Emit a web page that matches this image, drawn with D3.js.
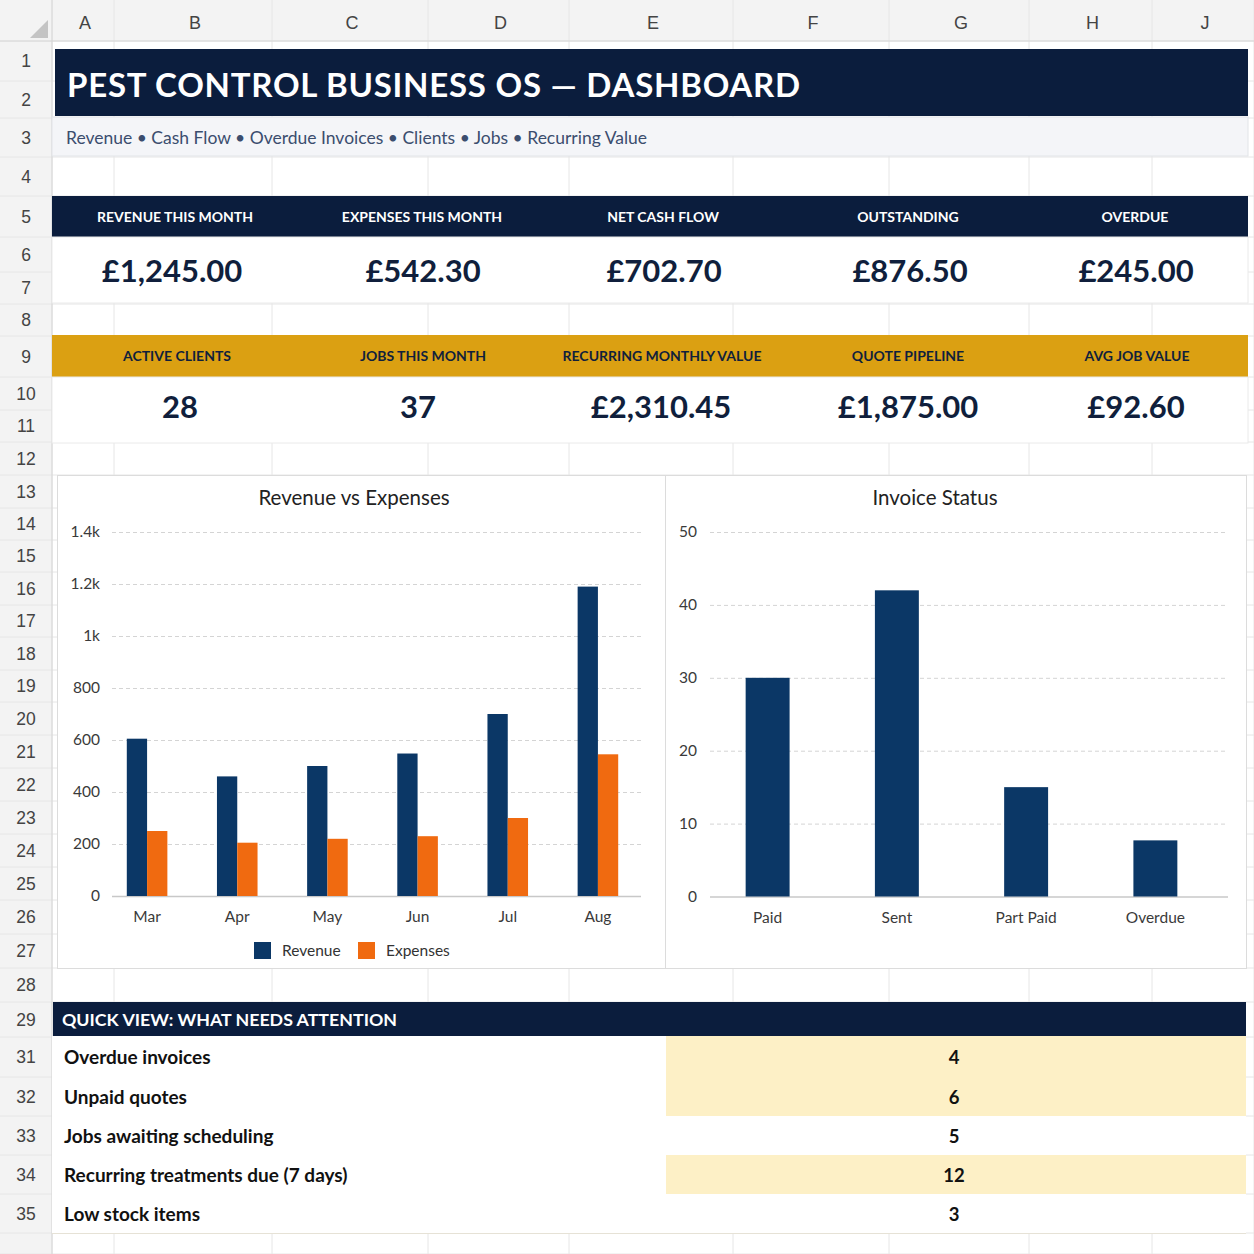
<!DOCTYPE html>
<html>
<head>
<meta charset="utf-8">
<script src="https://cdn.jsdelivr.net/npm/d3@7"></script>
<style>
  html, body { margin: 0; padding: 0; background: #fff; }
  svg { display: block; font-family: Lato, "Noto Sans", sans-serif; }
</style>
</head>
<body>
<svg id="sheet" width="1254" height="1254"></svg>
<script>
// ---- data ----
var titleText = "PEST CONTROL BUSINESS OS \u2014 DASHBOARD";
var subtitleText = "Revenue \u2022 Cash Flow \u2022 Overdue Invoices \u2022 Clients \u2022 Jobs \u2022 Recurring Value";

var kpiLabelsTop = ["REVENUE THIS MONTH", "EXPENSES THIS MONTH", "NET CASH FLOW", "OUTSTANDING", "OVERDUE"];
var kpiValuesTop = ["\u00a31,245.00", "\u00a3542.30", "\u00a3702.70", "\u00a3876.50", "\u00a3245.00"];
var kpiLabelsBottom = ["ACTIVE CLIENTS", "JOBS THIS MONTH", "RECURRING MONTHLY VALUE", "QUOTE PIPELINE", "AVG JOB VALUE"];
var kpiValuesBottom = ["28", "37", "\u00a32,310.45", "\u00a31,875.00", "\u00a392.60"];

var months = ["Mar", "Apr", "May", "Jun", "Jul", "Aug"];
var revenue = [605, 460, 500, 548, 700, 1190];
var expenses = [250, 205, 220, 230, 300, 545];
var revTicks = [0, 200, 400, 600, 800, 1000, 1200, 1400];

var statuses = ["Paid", "Sent", "Part Paid", "Overdue"];
var invoiceCounts = [30, 42, 15, 7.7];
var statusTicks = [0, 10, 20, 30, 40, 50];

var attentionItems = ["Overdue invoices", "Unpaid quotes", "Jobs awaiting scheduling", "Recurring treatments due (7 days)", "Low stock items"];
var attentionCounts = [4, 6, 5, 12, 3];

var colLetters = ["A", "B", "C", "D", "E", "F", "G", "H", "J"];
var rowNumbers = [1,2,3,4,5,6,7,8,9,10,11,12,13,14,15,16,17,18,19,20,21,22,23,24,25,26,27,28,29,31,32,33,34,35,""];

// ---- layout ----
var NAVY = "#0b1d3d", GOLD = "#dba012", BAR = "#0b3766", ORANGE = "#f06a10", INK = "#101f3c";
var colEdges = [52, 114, 272, 428, 569, 733, 889, 1029, 1152, 1254];
var rowEdges = [41, 81, 118, 157, 196, 237, 272, 304, 336, 377, 410, 442, 475, 508, 540, 572, 605, 637, 670,
                702, 735, 768, 801, 834, 867, 900, 934, 968, 1002, 1037, 1077, 1116, 1155, 1194, 1233, 1254];
var topLabelX = [175, 422, 663, 908, 1135];
var topValueX = [172, 423, 664, 910, 1136];
var botLabelX = [177, 423, 662, 908, 1137];
var botValueX = [180, 418, 661, 908, 1136];
var highlightRows = [0, 1, 3];

var svg = d3.select("#sheet");
svg.append("rect").attr("width", 1254).attr("height", 1254).attr("fill", "#fff");

// spreadsheet chrome
svg.append("rect").attr("x", 0).attr("y", 0).attr("width", 1254).attr("height", 41).attr("fill", "#f3f3f3");
svg.append("rect").attr("x", 0).attr("y", 0).attr("width", 52).attr("height", 1254).attr("fill", "#f3f3f3");
svg.append("path").attr("d", "M48,20 L48,38 L30,38 Z").attr("fill", "#c4c4c4");

var grid = svg.append("g").attr("stroke", "#e6e6e6").attr("stroke-width", 1);
colEdges.forEach(function (x) {
  grid.append("line").attr("x1", x).attr("x2", x).attr("y1", 0).attr("y2", 1254);
});
rowEdges.forEach(function (y) {
  grid.append("line").attr("x1", 0).attr("x2", 1254).attr("y1", y).attr("y2", y);
});
svg.append("line").attr("x1", 0).attr("x2", 1254).attr("y1", 41).attr("y2", 41).attr("stroke", "#d6d6d6");
svg.append("line").attr("x1", 52).attr("x2", 52).attr("y1", 0).attr("y2", 1254).attr("stroke", "#d6d6d6");

svg.selectAll("text.col").data(colLetters).enter().append("text")
  .attr("class", "col")
  .attr("x", function (d, i) { return (colEdges[i] + colEdges[i + 1]) / 2 + 2; })
  .attr("y", 29)
  .attr("text-anchor", "middle")
  .attr("font-family", "Liberation Sans, Arial, sans-serif")
  .attr("font-size", 18).attr("fill", "#444")
  .text(function (d) { return d; });

svg.selectAll("text.row").data(rowNumbers).enter().append("text")
  .attr("class", "row")
  .attr("x", 26)
  .attr("y", function (d, i) { return (rowEdges[i] + rowEdges[i + 1]) / 2 + 6; })
  .attr("text-anchor", "middle")
  .attr("font-family", "Liberation Sans, Arial, sans-serif")
  .attr("font-size", 17.5).attr("fill", "#444")
  .text(function (d) { return d; });

// title + subtitle
svg.append("rect").attr("x", 55).attr("y", 49).attr("width", 1193).attr("height", 67).attr("fill", NAVY);
svg.append("text").attr("x", 67).attr("y", 97)
  .attr("font-size", 33).attr("font-weight", 700).attr("fill", "#fff")
  .attr("letter-spacing", 0.75)
  .text(titleText);
svg.append("rect").attr("x", 52).attr("y", 117).attr("width", 1196).attr("height", 39)
  .attr("fill", "#f4f5f8").attr("stroke", "#e2e4e8");
svg.append("text").attr("x", 66).attr("y", 144)
  .attr("font-size", 17.5).attr("fill", "#3b4d6e")
  .text(subtitleText);

// KPI bands
function kpiBand(y0, h, valueY, bandFill, labelFill, labels, values, labelX, valueX) {
  svg.append("rect").attr("x", 52).attr("y", y0).attr("width", 1196).attr("height", h).attr("fill", bandFill);
  svg.append("rect").attr("x", 52).attr("y", y0 + h).attr("width", 1196).attr("height", 66)
    .attr("fill", "#fff").attr("stroke", "#eaeaea");
  svg.selectAll(null).data(labels).enter().append("text")
    .attr("x", function (d, i) { return labelX[i]; })
    .attr("y", y0 + h / 2 + 5)
    .attr("text-anchor", "middle")
    .attr("font-size", 14).attr("font-weight", 700).attr("fill", labelFill)
    .text(function (d) { return d; });
  svg.selectAll(null).data(values).enter().append("text")
    .attr("x", function (d, i) { return valueX[i]; })
    .attr("y", valueY)
    .attr("text-anchor", "middle")
    .attr("font-size", 31).attr("font-weight", 700).attr("fill", INK)
    .text(function (d) { return d; });
}
kpiBand(196, 41, 282, NAVY, "#fff", kpiLabelsTop, kpiValuesTop, topLabelX, topValueX);
kpiBand(335, 42, 418, GOLD, INK, kpiLabelsBottom, kpiValuesBottom, botLabelX, botValueX);

// chart panels
svg.append("rect").attr("x", 57.5).attr("y", 475.5).attr("width", 608).attr("height", 493)
  .attr("fill", "#fff").attr("stroke", "#dcdcdc");
svg.append("rect").attr("x", 665.5).attr("y", 475.5).attr("width", 581).attr("height", 493)
  .attr("fill", "#fff").attr("stroke", "#dcdcdc");

function styleAxis(g, zeroSolid) {
  g.attr("font-family", "Lato, sans-serif").attr("font-size", 15.5);
  g.select(".domain").remove();
  g.selectAll(".tick text").attr("fill", "#3a3a3a");
  g.selectAll(".tick line")
    .attr("stroke-dasharray", function (d) { return d === 0 && zeroSolid ? null : "4,3"; })
    .attr("stroke", function (d) { return d === 0 ? "#c8c8c8" : "#d4d4d4"; })
    .attr("stroke-width", function (d) { return d === 0 ? 1.5 : 1; });
}

// ---- Revenue vs Expenses ----
var c1 = svg.append("g");
c1.append("text").attr("x", 354).attr("y", 505).attr("text-anchor", "middle")
  .attr("font-size", 20.5).attr("fill", "#222").text("Revenue vs Expenses");

var x0 = d3.scaleBand().domain(months).range([102, 643]).paddingInner(0.55).paddingOuter(0.275);
var x1 = d3.scaleBand().domain(["Revenue", "Expenses"]).range([0, x0.bandwidth()]);
var y1 = d3.scaleLinear().domain([0, 1400]).range([896, 532]);

c1.append("g").attr("transform", "translate(112,0)")
  .call(d3.axisLeft(y1).tickValues(revTicks).tickSize(-529).tickPadding(12)
    .tickFormat(function (d) { return d >= 1000 ? d3.format("~")(d / 1000) + "k" : d; }))
  .call(function (g) { styleAxis(g, true); });

c1.append("g").attr("transform", "translate(0,896)")
  .call(d3.axisBottom(x0).tickSize(0).tickPadding(15))
  .call(function (g) { styleAxis(g, false); });

var groups = c1.selectAll("g.month").data(months).enter().append("g")
  .attr("transform", function (d) { return "translate(" + x0(d) + ",0)"; });
groups.append("rect")
  .attr("x", x1("Revenue")).attr("width", x1.bandwidth())
  .attr("y", function (d, i) { return y1(revenue[i]); })
  .attr("height", function (d, i) { return y1(0) - y1(revenue[i]); })
  .attr("fill", BAR);
groups.append("rect")
  .attr("x", x1("Expenses")).attr("width", x1.bandwidth())
  .attr("y", function (d, i) { return y1(expenses[i]); })
  .attr("height", function (d, i) { return y1(0) - y1(expenses[i]); })
  .attr("fill", ORANGE);

var legend = c1.append("g").attr("font-size", 15.5).attr("fill", "#333");
[["Revenue", BAR, 254], ["Expenses", ORANGE, 358]].forEach(function (l) {
  legend.append("rect").attr("x", l[2]).attr("y", 942).attr("width", 17).attr("height", 17).attr("fill", l[1]);
  legend.append("text").attr("x", l[2] + 28).attr("y", 956).text(l[0]);
});

// ---- Invoice Status ----
var c2 = svg.append("g");
c2.append("text").attr("x", 935).attr("y", 505).attr("text-anchor", "middle")
  .attr("font-size", 20.5).attr("fill", "#222").text("Invoice Status");

var xs = d3.scaleBand().domain(statuses).range([703, 1220]).paddingInner(0.66).paddingOuter(0.33);
var ys = d3.scaleLinear().domain([0, 50]).range([896.5, 532]);

c2.append("g").attr("transform", "translate(710,0)")
  .call(d3.axisLeft(ys).tickValues(statusTicks).tickSize(-518).tickPadding(13))
  .call(function (g) { styleAxis(g, true); });

c2.append("g").attr("transform", "translate(0,896.5)")
  .call(d3.axisBottom(xs).tickSize(0).tickPadding(15))
  .call(function (g) { styleAxis(g, false); });

c2.selectAll("rect.inv").data(statuses).enter().append("rect")
  .attr("class", "inv")
  .attr("x", function (d) { return xs(d); })
  .attr("width", xs.bandwidth())
  .attr("y", function (d, i) { return ys(invoiceCounts[i]); })
  .attr("height", function (d, i) { return ys(0) - ys(invoiceCounts[i]); })
  .attr("fill", BAR);

// ---- quick view table ----
svg.append("rect").attr("x", 53).attr("y", 1002).attr("width", 1193).attr("height", 34).attr("fill", NAVY);
svg.append("text").attr("x", 62).attr("y", 1026)
  .attr("font-size", 17.8).attr("font-weight", 700).attr("fill", "#fff")
  .text("QUICK VIEW: WHAT NEEDS ATTENTION");

var tableTop = [1036, 1077, 1116, 1155, 1194];
var tableBottom = [1077, 1116, 1155, 1194, 1233];
var rowsG = svg.selectAll("g.att").data(attentionItems).enter().append("g");
rowsG.append("rect")
  .attr("x", 52).attr("width", 614)
  .attr("y", function (d, i) { return tableTop[i]; })
  .attr("height", function (d, i) { return tableBottom[i] - tableTop[i]; })
  .attr("fill", "#fff");
rowsG.append("rect")
  .attr("x", 666).attr("width", 580)
  .attr("y", function (d, i) { return tableTop[i]; })
  .attr("height", function (d, i) { return tableBottom[i] - tableTop[i]; })
  .attr("fill", function (d, i) { return highlightRows.indexOf(i) >= 0 ? "#fdf0c6" : "#fff"; });
rowsG.append("line")
  .attr("x1", 52).attr("x2", 1246)
  .attr("y1", function (d, i) { return tableBottom[i] + 0.5; })
  .attr("y2", function (d, i) { return tableBottom[i] + 0.5; })
  .attr("stroke", "#e6e2d6");
rowsG.append("text")
  .attr("x", 64)
  .attr("y", function (d, i) { return (tableTop[i] + tableBottom[i]) / 2 + 7; })
  .attr("font-size", 19).attr("font-weight", 700).attr("fill", "#111")
  .text(function (d) { return d; });
rowsG.append("text")
  .attr("x", 954)
  .attr("y", function (d, i) { return (tableTop[i] + tableBottom[i]) / 2 + 7; })
  .attr("text-anchor", "middle")
  .attr("font-size", 18.5).attr("font-weight", 700).attr("fill", "#111")
  .text(function (d, i) { return attentionCounts[i]; });
</script>
</body>
</html>
